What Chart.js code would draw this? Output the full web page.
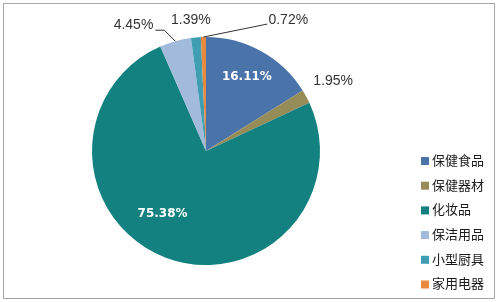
<!DOCTYPE html>
<html lang="zh">
<head>
    <meta charset="UTF-8">
    <title>销售占比</title>
    <script src="https://cdn.jsdelivr.net/npm/chart.js"></script>
    <style>
        body { margin: 0; background: #fff; }
        #wrap { width: 500px; height: 302px; position: relative; }
    </style>
</head>
<body>
    <div id="wrap"><canvas id="chart" width="500" height="302"></canvas></div>

    <script>
        const categories = ['保健食品', '保健器材', '化妆品', '保洁用品', '小型厨具', '家用电器'];
        const shares = [16.11, 1.95, 75.38, 4.45, 1.39, 0.72];
        const colors = ['#4A73AA', '#968C58', '#12817F', '#A2BADB', '#3F9EB2', '#E8893E'];

        const FONT = '"Liberation Sans", "Noto Sans CJK SC", sans-serif';
        const CJK = '"Noto Sans CJK SC", sans-serif';

        // where each percentage label goes: inside (ratio of radius) or outside (offset from arc edge)
        const labelPlace = [
            { inside: true, r: 0.74, da: 0 },
            { dx: 27, dy: -15 },
            { inside: true, r: 0.67, da: 14 },
            { dx: -20, dy: -12, leader: true, align: 'right' },
            { dx: -5, dy: -17 },
            { dx: 64, dy: -13, leader: true, align: 'left' }
        ];

        const decor = {
            id: 'decor',
            afterDraw(chart) {
                const ctx = chart.ctx;
                const meta = chart.getDatasetMeta(0);
                ctx.save();

                // frame
                ctx.strokeStyle = '#a6a6a6';
                ctx.lineWidth = 1;
                ctx.strokeRect(3.5, 3.5, 491, 295);

                meta.data.forEach((arc, i) => {
                    const p = arc.getProps(['x', 'y', 'startAngle', 'endAngle', 'outerRadius'], true);
                    const mid = (p.startAngle + p.endAngle) / 2;
                    const txt = shares[i].toFixed(2) + '%';
                    const pl = labelPlace[i];
                    ctx.textBaseline = 'middle';
                    if (pl.inside) {
                        const a = mid + pl.da * Math.PI / 180;
                        const x = p.x + Math.cos(a) * p.outerRadius * pl.r;
                        const y = p.y + Math.sin(a) * p.outerRadius * pl.r;
                        ctx.font = 'bold 12px "DejaVu Sans", sans-serif';
                        ctx.fillStyle = '#ffffff';
                        ctx.textAlign = 'center';
                        ctx.fillText(txt, x, y);
                    } else {
                        const ex = p.x + Math.cos(mid) * p.outerRadius;
                        const ey = p.y + Math.sin(mid) * p.outerRadius;
                        const tx = ex + pl.dx;
                        const ty = ey + pl.dy;
                        ctx.font = '14px ' + FONT;
                        ctx.fillStyle = '#333333';
                        if (pl.leader) {
                            ctx.strokeStyle = '#333';
                            ctx.lineWidth = 1;
                            ctx.beginPath();
                            ctx.moveTo(ex, ey);
                            if (pl.align === 'right') {
                                ctx.lineTo(tx + 9, ty + 1);
                                ctx.lineTo(tx, ty + 1);
                            } else {
                                ctx.lineTo(tx, ty);
                            }
                            ctx.stroke();
                            ctx.textAlign = pl.align;
                            ctx.fillText(txt, pl.align === 'right' ? tx - 2 : tx + 1, ty - 4);
                        } else {
                            ctx.textAlign = 'center';
                            ctx.fillText(txt, tx, ty);
                        }
                    }
                });

                // legend
                ctx.textAlign = 'left';
                ctx.textBaseline = 'middle';
                ctx.font = '13px ' + CJK;
                categories.forEach((name, i) => {
                    const y = 160 + i * 24.7;
                    ctx.fillStyle = colors[i];
                    ctx.fillRect(421, y - 3, 8, 8);
                    ctx.fillStyle = '#1a1a1a';
                    ctx.fillText(name, 432, y);
                });
                ctx.restore();
            }
        };

        new Chart(document.getElementById('chart'), {
            type: 'pie',
            data: {
                labels: categories,
                datasets: [{
                    data: shares,
                    backgroundColor: colors,
                    borderWidth: 0
                }]
            },
            options: {
                responsive: false,
                animation: false,
                layout: { padding: { left: 92, right: 180, top: 37, bottom: 37 } },
                plugins: {
                    legend: { display: false },
                    tooltip: { enabled: false }
                }
            },
            plugins: [decor]
        });
    </script>
</body>
</html>
